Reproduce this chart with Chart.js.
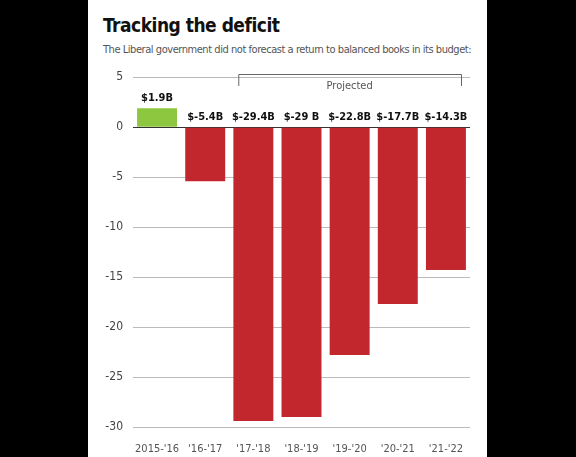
<!DOCTYPE html>
<html>
<head>
<meta charset="utf-8">
<script src="https://cdn.jsdelivr.net/npm/chart.js@4.4.0/dist/chart.umd.min.js"></script>
<style>
  body { margin: 0; background: #000; width: 576px; height: 457px; overflow: hidden; }
  #card { position: absolute; left: 88px; top: 0; width: 399px; height: 457px; background: #fff; }
  h1 { position: absolute; left: 15px; top: 14px; margin: 0; font: bold 19px 'DejaVu Sans Condensed', sans-serif; letter-spacing: -0.5px; color: #111; }
  p { position: absolute; left: 15px; top: 43px; margin: 0; font: 11px 'DejaVu Sans Condensed', sans-serif; letter-spacing: -0.45px; color: #555; white-space: nowrap; }
  #wrap { position: absolute; left: 0; top: 60px; width: 399px; height: 397px; }
</style>
</head>
<body>
<div id="card">
  <h1>Tracking the deficit</h1>
  <p>The Liberal government did not forecast a return to balanced books in its budget:</p>
  <div id="wrap"><canvas id="chart"></canvas></div>
</div>
<script>
// Chart data
const years = ["2015-'16", "'16-'17", "'17-'18", "'18-'19", "'19-'20", "'20-'21", "'21-'22"];
const balance = [1.9, -5.4, -29.4, -29, -22.8, -17.7, -14.3];
const valueLabels = ['$1.9B', '$-5.4B', '$-29.4B', '$-29 B', '$-22.8B', '$-17.7B', '$-14.3B'];
const projectedFrom = 2;

const font = "'DejaVu Sans Condensed', sans-serif";

// Value labels above zero line + "Projected" bracket
const annotations = {
    id: 'annotations',
    afterDatasetsDraw(chart) {
        const ctx = chart.ctx;
        const x = chart.scales.x, y = chart.scales.y;
        const zero = y.getPixelForValue(0);
        ctx.save();
        ctx.fillStyle = '#111';
        ctx.font = 'bold 11px ' + font;
        ctx.textAlign = 'center';
        ctx.textBaseline = 'bottom';
        valueLabels.forEach((t, i) => {
            const top = balance[i] > 0 ? y.getPixelForValue(balance[i]) : zero;
            ctx.fillText(t, x.getPixelForValue(i), top - 5);
        });
        // bracket
        const half = x.width / years.length / 2 - 9;
        const x1 = x.getPixelForValue(projectedFrom) - half;
        const x2 = x.getPixelForValue(years.length - 1) + half;
        const by = 14;
        ctx.strokeStyle = '#666';
        ctx.lineWidth = 1;
        ctx.beginPath();
        ctx.moveTo(x1 + 0.5, by + 12);
        ctx.lineTo(x1 + 0.5, by + 0.5);
        ctx.lineTo(x2 + 0.5, by + 0.5);
        ctx.lineTo(x2 + 0.5, by + 12);
        ctx.stroke();
        ctx.fillStyle = '#555';
        ctx.font = '11px ' + font;
        ctx.textBaseline = 'middle';
        ctx.fillText('Projected', (x1 + x2) / 2, by + 12);
        ctx.restore();
    }
};

new Chart(document.getElementById('chart').getContext('2d'), {
    type: 'bar',
    data: {
        labels: years,
        datasets: [{
            data: balance,
            backgroundColor: balance.map(v => v > 0 ? '#8dc63f' : '#c1272d'),
            categoryPercentage: 1,
            barPercentage: 0.83
        }]
    },
    options: {
        responsive: true,
        maintainAspectRatio: false,
        animation: false,
        layout: { padding: { top: 16, right: 17 } },
        plugins: { legend: { display: false }, tooltip: { enabled: false } },
        scales: {
            x: {
                grid: { display: false },
                border: { display: false },
                ticks: { color: '#555', font: { family: font, size: 11 }, padding: 8, maxRotation: 0, minRotation: 0, autoSkip: false },
                afterFit(s) { s.height = 30; }
            },
            y: {
                min: -30, max: 5,
                ticks: { stepSize: 5, color: '#444', font: { family: font, size: 12 }, padding: 10 },
                grid: {
                    color: ctx => ctx.tick.value === 0 ? '#333' : '#bbb',
                    drawTicks: false
                },
                border: { display: false },
                afterFit(s) { s.width = 45; }
            }
        }
    },
    plugins: [annotations]
});
</script>
</body>
</html>
